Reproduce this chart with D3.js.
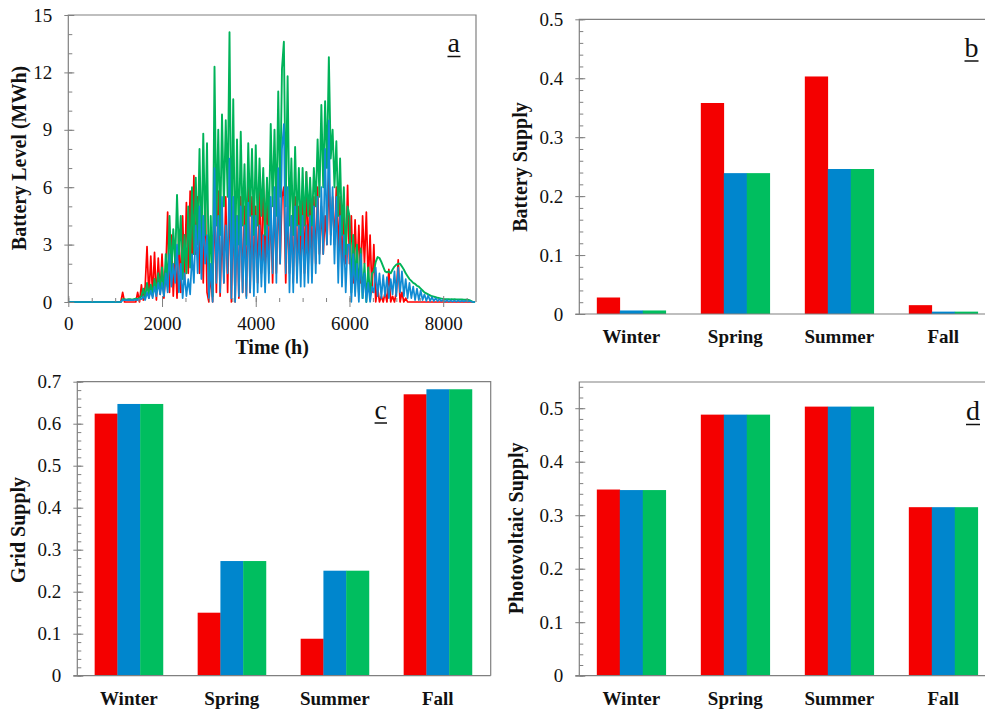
<!DOCTYPE html>
<html><head><meta charset="utf-8">
<script src="https://cdn.jsdelivr.net/npm/d3@7"></script>
<style>
body{margin:0;background:#fff}
svg{display:block}
text{font-family:"Liberation Serif","Times New Roman",serif;fill:#111}
</style>
</head><body>
<svg id="chart" width="985" height="712"></svg>
<script>
// ---------- DATA ----------
// Panel a: battery level (MWh), sampled every 40 h from 0 h
const timeStepH = 40;
const batteryRed = [
 0,0,0,0,0,0,0,0,0,0,0,0,0,0,0,0,0,0,0,0,0,0,0,0,0,
 0,0,0,0,0.5,0,0,0,0,0,0,0,0.5,0,0.9,0.1,0.8,2.9,0.2,2.4,0.3,2.6,0.1,2.3,0.4,
 2.5,0.2,1.5,4.7,0.5,3.5,0.3,2.5,0.2,3.8,0.5,4.5,1.0,5.2,1.5,5.8,2.0,6.6,2.5,5.5,1.5,4.8,1.0,5.5,0.5,
 0,1.5,0,5.5,0.5,5.8,0.3,4.0,1.0,5.5,0.5,6.0,0,5.0,0,4.5,0.2,5.5,0.5,5.0,0.3,6.0,0.5,5.5,1.0,
 5.0,1.0,6.0,1.5,6.4,2.0,6.3,1.5,5.0,1.0,5.5,1.5,6.0,2.0,5.5,6.0,1.0,5.0,1.5,4.5,1.0,5.5,1.5,5.0,2.0,
 5.5,1.5,6.8,2.0,6.2,1.5,5.5,2.0,6.0,2.5,5.0,2.5,4.5,3.0,6.5,3.5,5.5,3.0,6.0,2.5,5.5,1.5,5.0,2.0,6.1,
 2.0,4.5,1.0,4.3,1.5,4.0,1.0,4.5,2.0,4.7,1.0,3.5,0.5,3.0,0,0.8,0,0.3,0,0.5,0,1.7,0,0.3,0,
 0.5,2.2,0,0.5,0,0.2,0,0,0,0,0,0,0,0,0,0,0,0,0,0,0,0,0,0,0,
 0,0,0,0,0,0,0,0,0,0,0,0,0,0,0,0,0,0
];
const batteryGreen = [
 0,0,0,0,0,0,0,0,0,0,0,0,0,0,0,0,0,0,0,0,0,0,0,0,0,
 0,0,0,0,0.15,0.15,0.12,0.15,0.15,0.12,0.15,0.18,0.15,0.2,0.3,0.7,0.2,1.0,0.3,0.9,0.4,1.2,0.5,1.5,0.6,
 1.8,0.4,2.5,0.8,4.5,1.5,3.8,2.0,5.6,2.5,4.5,1.2,3.5,1.5,5.0,1.8,6.0,2.5,6.5,3.0,8.0,2.5,8.8,3.5,8.3,
 1.0,4.5,0.3,12.3,4.0,9.0,3.5,9.8,5.0,9.5,5.5,14.1,3.0,10.6,2.0,8.5,3.0,8.9,4.0,7.2,3.0,8.3,4.5,8.0,3.5,
 8.2,4.0,7.5,4.5,7.0,3.5,6.5,4.0,9.3,5.0,9.0,4.5,11.0,5.5,12.2,13.6,5.0,11.8,4.0,7.5,3.5,8.1,4.0,7.0,3.5,
 7.0,4.0,6.8,4.5,6.5,4.0,7.0,5.0,8.5,5.5,10.3,6.0,10.5,7.0,12.8,7.5,9.0,6.0,8.4,4.5,7.5,3.5,6.0,2.5,5.0,
 4.5,0.5,3.5,1.0,3.0,0.5,2.8,0.2,2.0,0,1.8,0.3,1.5,1.6,2.1,2.35,2.3,2.1,1.85,1.6,1.55,1.6,1.5,1.7,1.85,
 1.95,2.0,2.0,1.85,1.7,1.5,1.35,1.2,1.1,1.0,0.95,0.85,0.8,0.7,0.6,0.5,0.45,0.4,0.35,0.3,0.28,0.25,0.22,0.2,0.18,
 0.16,0.15,0.15,0.15,0.14,0.14,0.15,0.14,0.13,0.13,0.13,0.12,0.12,0.12,0.1,0.05,0,0
];
const batteryBlue = [
 0,0,0,0,0,0,0,0,0,0,0,0,0,0,0,0,0,0,0,0,0,0,0,0,0,
 0,0,0,0,0.1,0.1,0.1,0.1,0.1,0.1,0.1,0.12,0.1,0.15,0.15,0.3,0.1,0.5,0.2,0.6,0.2,0.8,0.3,1.0,0.4,
 1.0,0.3,1.5,0.5,2.5,0.8,2.0,1.0,3.0,0.5,2.0,0.2,1.5,0.3,1.2,0.4,2.5,1.0,4.0,1.5,5.0,1.2,4.5,2.0,3.5,
 0.2,2.0,0,7.0,1.0,4.5,0.5,5.5,1.0,4.0,1.5,7.5,0.2,5.5,0,4.5,0.3,5.0,0.5,4.0,0.2,5.2,0.5,4.5,0.3,
 4.5,0.5,4.0,0.8,3.5,0.5,4.0,1.0,5.5,1.5,6.0,1.0,7.0,2.0,8.0,9.3,1.5,6.0,0.5,4.5,0.5,5.0,1.0,4.0,0.8,
 4.5,0.8,4.0,1.0,4.5,1.0,5.0,1.5,5.5,2.0,6.0,2.5,8.0,3.0,9.5,3.0,6.0,2.0,5.5,1.0,4.5,0.8,3.5,0.5,3.0,
 3.0,0,2.5,0.3,2.0,0,2.5,0.2,1.5,0,1.0,0,0.8,0.5,1.8,0.3,1.5,0.2,1.4,0.3,1.3,0.2,1.2,0.4,1.6,
 0.3,1.8,0.5,1.6,0.3,1.2,0.2,1.0,0.2,0.8,0.1,0.7,0.1,0.6,0.1,0.4,0.05,0.35,0.05,0.25,0.05,0.2,0.05,0.15,0.05,
 0.1,0.02,0.1,0.02,0.08,0.02,0.08,0.02,0.08,0.02,0.07,0.02,0.07,0.02,0.05,0.02,0,0
];
const timeTicks = [0, 2000, 4000, 6000, 8000];
const levelTicks = [0, 3, 6, 9, 12, 15];

// Bar panels
const seasons = ["Winter", "Spring", "Summer", "Fall"];
const seriesKeys = ["red", "blue", "green"];
const batterySupplyRed   = [0.028, 0.358, 0.403, 0.015];
const batterySupplyBlue  = [0.006, 0.239, 0.246, 0.004];
const batterySupplyGreen = [0.006, 0.239, 0.246, 0.004];
const gridSupplyRed   = [0.624, 0.150, 0.088, 0.670];
const gridSupplyBlue  = [0.647, 0.273, 0.250, 0.682];
const gridSupplyGreen = [0.647, 0.273, 0.250, 0.682];
const pvSupplyRed   = [0.348, 0.488, 0.503, 0.315];
const pvSupplyBlue  = [0.347, 0.488, 0.503, 0.315];
const pvSupplyGreen = [0.347, 0.488, 0.503, 0.315];
const ticksB = [0, 0.1, 0.2, 0.3, 0.4, 0.5];
const ticksC = [0, 0.1, 0.2, 0.3, 0.4, 0.5, 0.6, 0.7];
const ticksD = [0, 0.1, 0.2, 0.3, 0.4, 0.5];

// ---------- STYLE ----------
const AX = "#808080";
const barColors = {red: "#f40000", blue: "#0086cd", green: "#00be5f"};
const lineColors = {red: "#ff0000", blue: "#108bd3", green: "#00b359"};

const svg = d3.select("#chart");

function frame(x0, x1, y0, y1) {
  svg.append("path").attr("d", `M${x0},${y1}V${y0}H${x1}V${y1}`)
    .attr("fill", "none").attr("stroke", AX).attr("stroke-width", 1.2);
}
function styleAxis(g) {
  g.selectAll("line").attr("stroke", AX).attr("stroke-width", 1);
  g.select(".domain").remove();
  g.selectAll("text").attr("font-family", "Liberation Serif, Times New Roman, serif")
    .attr("font-size", 19).attr("fill", "#111");
}
function yAxis(y, x0, major, minor, fmt) {
  svg.append("g").attr("transform", `translate(${x0},0)`)
    .call(d3.axisLeft(y).tickValues(minor).tickSize(-4).tickFormat("")).call(styleAxis);
  svg.append("g").attr("transform", `translate(${x0},0)`)
    .call(d3.axisLeft(y).tickValues(major).tickSize(4).tickFormat("")).call(styleAxis);
  svg.append("g").attr("transform", `translate(${x0},0)`)
    .call(d3.axisLeft(y).tickValues(major).tickSizeInner(-6).tickSizeOuter(0).tickPadding(16).tickFormat(fmt))
    .call(styleAxis);
}
function yTitle(txt, x, y) {
  svg.append("text").attr("transform", `translate(${x},${y}) rotate(-90)`)
    .attr("text-anchor", "middle").attr("font-weight", "bold").attr("font-size", 20).text(txt);
}
function panelLetter(ch, x, y) {
  const t = svg.append("text").attr("x", x).attr("y", y).attr("text-anchor", "middle")
    .attr("font-size", 28).text(ch);
  const bb = t.node().getBBox();
  svg.append("line").attr("x1", bb.x).attr("x2", bb.x + bb.width)
    .attr("y1", y + 4.5).attr("y2", y + 4.5).attr("stroke", "#111").attr("stroke-width", 1.5);
}

// ---------- PANEL A ----------
(function () {
  const L = 68.3, R = 476, T = 15, B = 302;
  const x = d3.scaleLinear().domain([0, 8700]).range([L, R]);
  const y = d3.scaleLinear().domain([0, 15]).range([B, T]);
  const line = d3.line().x((d, i) => x(i * timeStepH)).y(d => y(d));
  [["red", batteryRed, 1.7], ["green", batteryGreen, 1.9], ["blue", batteryBlue, 1.7]].forEach(([k, arr, w]) => {
    svg.append("path").datum(arr).attr("d", line).attr("fill", "none")
      .attr("stroke", lineColors[k]).attr("stroke-width", w).attr("stroke-linejoin", "round");
  });
  frame(L, R, T, B);
  // x axis
  svg.append("g").attr("transform", `translate(0,${B})`)
    .call(d3.axisBottom(x).tickValues(d3.range(0, 8701, 500)).tickSize(-4).tickFormat("")).call(styleAxis);
  svg.append("g").attr("transform", `translate(0,${B})`)
    .call(d3.axisBottom(x).tickValues(timeTicks).tickSize(-6).tickFormat("")).call(styleAxis);
  svg.append("g").attr("transform", `translate(0,${B})`)
    .call(d3.axisBottom(x).tickValues(timeTicks).tickSizeInner(5).tickSizeOuter(0).tickPadding(10).tickFormat(d3.format("d")))
    .call(styleAxis);
  yAxis(y, L, levelTicks, d3.range(0, 15.01, 1), d3.format("d"));
  svg.append("text").attr("x", (L + R) / 2).attr("y", 354).attr("text-anchor", "middle")
    .attr("font-weight", "bold").attr("font-size", 20).text("Time (h)");
  yTitle("Battery Level (MWh)", 26, 158);
  panelLetter("a", 453.7, 52);
})();

// ---------- BAR PANELS ----------
function barPanel(o) {
  const x = d3.scaleBand().domain(seasons).range([o.L, o.L + o.step * 4]).paddingInner(0.337).paddingOuter(0.1685);
  const xs = d3.scaleBand().domain(seriesKeys).range([0, x.bandwidth()]);
  const y = d3.scaleLinear().domain([0, o.max]).range([o.B, o.T]);
  const rows = seasons.map((s, i) => ({season: s, vals: seriesKeys.map((k, j) => ({key: k, v: o.series[j][i]}))}));
  const g = svg.append("g");
  g.selectAll("g.grp").data(rows).join("g").attr("class", "grp")
    .attr("transform", d => `translate(${x(d.season)},0)`)
    .selectAll("rect").data(d => d.vals).join("rect")
    .attr("x", d => xs(d.key)).attr("width", xs.bandwidth() + 0.3)
    .attr("y", d => y(d.v)).attr("height", d => y(0) - y(d.v))
    .attr("fill", d => barColors[d.key]);
  frame(o.L, o.R, o.T, o.B);
  svg.append("line").attr("x1", o.L - 4).attr("x2", o.R).attr("y1", o.B).attr("y2", o.B)
    .attr("stroke", AX).attr("stroke-width", 1.2);
  yAxis(y, o.L, o.ticks, d3.range(0, o.max + 0.001, 0.02), d => d === 0 ? "0" : d3.format(".1f")(d));
  const xg = svg.append("g").attr("transform", `translate(0,${o.B})`)
    .call(d3.axisBottom(x).tickSize(0).tickPadding(o.catPad)).call(styleAxis);
  xg.selectAll("text").attr("font-weight", "bold");
  yTitle(o.title, o.titleX, o.titleY);
  panelLetter(o.letter, o.letterX, o.letterY);
}

barPanel({L: 579.3, R: 1000, T: 19.3, B: 314, step: 104, max: 0.5, ticks: ticksB,
  series: [batterySupplyRed, batterySupplyBlue, batterySupplyGreen],
  catPad: 15.5, title: "Battery Supply", titleX: 527, titleY: 167,
  letter: "b", letterX: 971.5, letterY: 56.5});
barPanel({L: 77.3, R: 490.7, T: 381.7, B: 675.7, step: 103, max: 0.7, ticks: ticksC,
  series: [gridSupplyRed, gridSupplyBlue, gridSupplyGreen],
  catPad: 16, title: "Grid Supply", titleX: 25, titleY: 530,
  letter: "c", letterX: 380.8, letterY: 418.5});
barPanel({L: 579.3, R: 1000, T: 382, B: 675.7, step: 104, max: 0.549, ticks: ticksD,
  series: [pvSupplyRed, pvSupplyBlue, pvSupplyGreen],
  catPad: 16, title: "Photovoltaic Supply", titleX: 522.5, titleY: 528.3,
  letter: "d", letterX: 973, letterY: 420});
</script>
</body></html>
